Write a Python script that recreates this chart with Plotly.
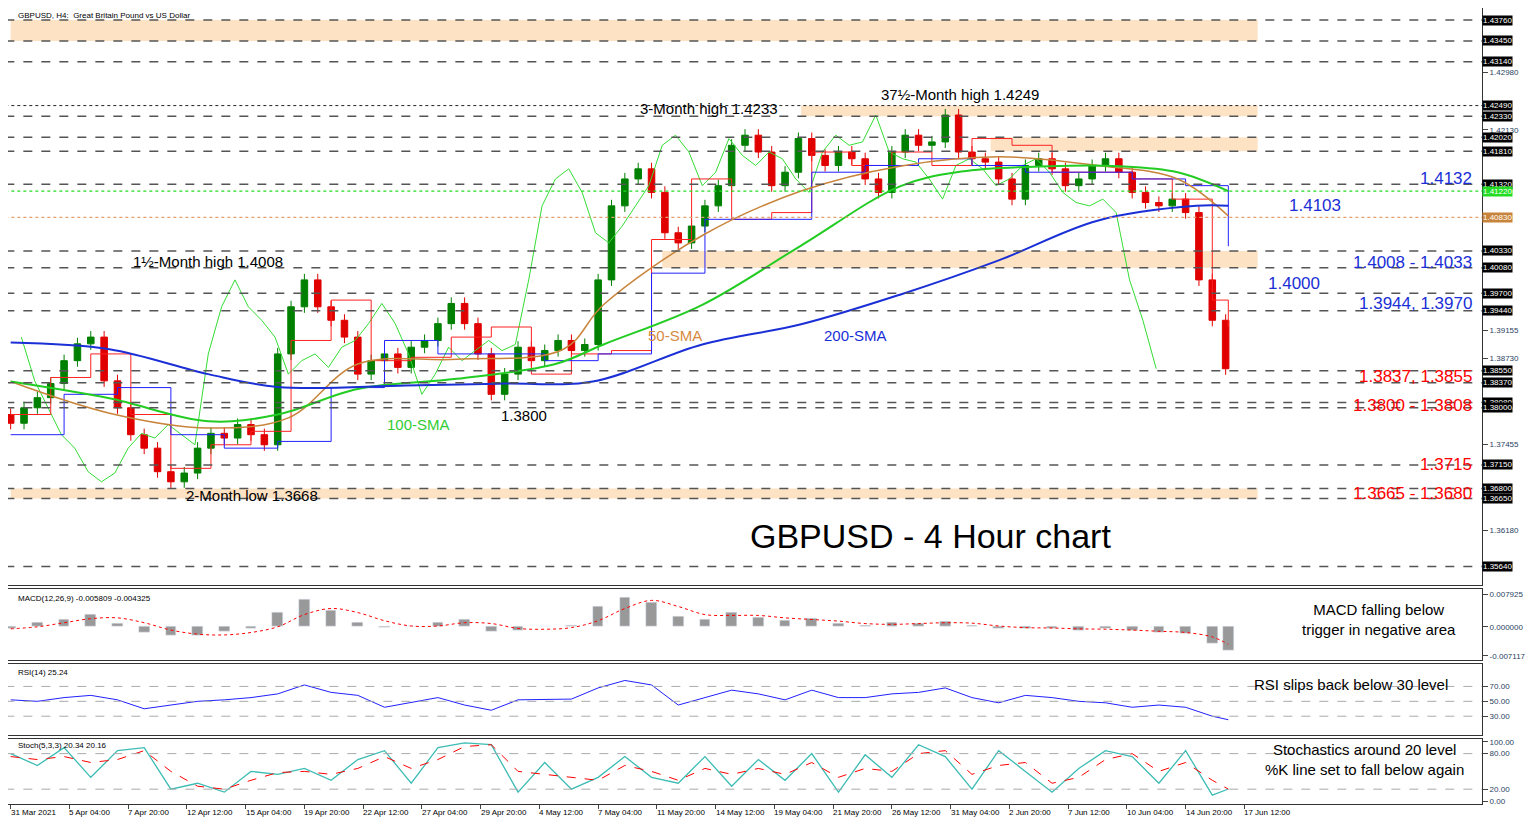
import plotly.graph_objects as go
from plotly.subplots import make_subplots

# candles, one every 5 H4 bars
closes = [1.3777, 1.3800, 1.3815, 1.3836, 1.3870, 1.3895, 1.3905, 1.3840, 1.3800, 1.3760,
          1.3740, 1.3705, 1.3690, 1.3703, 1.3740, 1.3762, 1.3755, 1.3775, 1.3760, 1.3745,
          1.3880, 1.3950, 1.3990, 1.3950, 1.3930, 1.3905, 1.3850, 1.3870, 1.3880, 1.3860,
          1.3890, 1.3900, 1.3925, 1.3955, 1.3925, 1.3880, 1.3820, 1.3850, 1.3890, 1.3870,
          1.3885, 1.3900, 1.3885, 1.3894, 1.3990, 1.4100, 1.4140, 1.4155, 1.4120, 1.4060,
          1.4045, 1.4070, 1.4100, 1.4130, 1.4190, 1.4205, 1.4180, 1.4130, 1.4150, 1.4200,
          1.4175, 1.4160, 1.4180, 1.4170, 1.4140, 1.4120, 1.4180, 1.4205, 1.4190, 1.4195,
          1.4235, 1.4180, 1.4170, 1.4165, 1.4140, 1.4110, 1.4160, 1.4170, 1.4155, 1.4130,
          1.4140, 1.4160, 1.4170, 1.4150, 1.4120, 1.4105, 1.4100, 1.4110, 1.4090, 1.3990,
          1.3930, 1.3858]
first_open = 1.3790

sma200_bars = [0, 37, 74, 100, 148, 185, 218, 259, 296, 333, 370, 407, 444, 456]
sma200 = [1.3897, 1.3887, 1.3850, 1.3831, 1.3833, 1.3836, 1.3839, 1.3894, 1.3924, 1.3968, 1.4019, 1.4078, 1.4100, 1.4100]
sma100_bars = [0, 37, 74, 100, 130, 167, 204, 222, 259, 296, 333, 356, 389, 415, 437, 456]
sma100 = [1.3839, 1.3814, 1.3780, 1.3790, 1.3828, 1.3843, 1.3865, 1.3894, 1.3953, 1.4041, 1.4129, 1.4151, 1.4159, 1.4159, 1.4150, 1.4122]
sma50_bars = [0, 37, 74, 104, 130, 167, 207, 222, 259, 296, 333, 370, 407, 437, 456]
sma50 = [1.3839, 1.3792, 1.3770, 1.3785, 1.3865, 1.3872, 1.3887, 1.3953, 1.4056, 1.4122, 1.4159, 1.4173, 1.4160, 1.4140, 1.4085]

tenkan = [1.3790, 1.3845, 1.3880, 1.3790, 1.3710, 1.3745, 1.3765, 1.3900, 1.3960, 1.3870,
          1.3875, 1.3905, 1.3920, 1.3850, 1.3880, 1.3885, 1.4050, 1.4140, 1.4080, 1.4090,
          1.4180, 1.4160, 1.4180, 1.4160, 1.4200, 1.4190, 1.4150, 1.4150, 1.4140, 1.4110,
          1.3960, 1.3920]
kijun = [1.3760, 1.3820, 1.3830, 1.3760, 1.3740, 1.3750, 1.3830, 1.3900, 1.3880, 1.3880,
         1.3870, 1.3880, 1.4000, 1.4080, 1.4080, 1.4150, 1.4160, 1.4170, 1.4160, 1.4150,
         1.4150, 1.4140, 1.4130, 1.4040]

macd = [-0.0003, 0.0010, 0.0018, 0.0030, 0.0008, -0.0015, -0.0022, -0.0020, -0.0012, -0.0005,
        0.0035, 0.0068, 0.0040, 0.0010, -0.0002, 0.0002, 0.0010, 0.0018, -0.0012, -0.0008,
        0.0000, 0.0004, 0.0050, 0.0072, 0.0060, 0.0025, 0.0018, 0.0035, 0.0022, 0.0015,
        0.0020, 0.0008, 0.0003, 0.0010, 0.0008, 0.0014, 0.0003, -0.0005, -0.0003, -0.0003,
        -0.0008, -0.0005, -0.0010, -0.0015, -0.0016, -0.0040, -0.0058]
signal = [-0.0005, 0.0000, 0.0010, 0.0020, 0.0022, 0.0010, -0.0008, -0.0018, -0.0020, -0.0014,
          0.0000, 0.0030, 0.0045, 0.0035, 0.0015, 0.0002, 0.0002, 0.0010, 0.0008, -0.0004,
          -0.0006, -0.0002, 0.0015, 0.0045, 0.0065, 0.0050, 0.0030, 0.0028, 0.0028, 0.0022,
          0.0018, 0.0014, 0.0008, 0.0006, 0.0008, 0.0010, 0.0009, 0.0002, -0.0002, -0.0003,
          -0.0005, -0.0006, -0.0008, -0.0011, -0.0014, -0.0025, -0.0043]
rsi = [52, 50, 55, 58, 52, 40, 45, 50, 52, 55, 60, 72, 62, 58, 42, 48, 55, 45, 38, 52,
       52, 53, 68, 78, 72, 45, 55, 65, 60, 52, 65, 55, 55, 60, 62, 68, 55, 48, 58, 55,
       50, 48, 42, 45, 42, 30, 25.24]
stoch_k = [80, 60, 90, 40, 85, 90, 20, 30, 15, 50, 45, 55, 35, 70, 85, 30, 90, 98, 95, 15,
           65, 20, 40, 75, 40, 30, 75, 25, 70, 35, 80, 15, 78, 40, 95, 75, 20, 85, 50, 15,
           55, 85, 75, 30, 85, 10, 20.34]
stoch_d = [75, 70, 75, 65, 70, 85, 50, 25, 20, 35, 48, 50, 45, 55, 75, 55, 70, 92, 95, 50,
           45, 40, 35, 60, 50, 35, 55, 45, 55, 45, 65, 40, 55, 50, 80, 85, 45, 60, 65, 30,
           40, 70, 80, 50, 65, 35, 20.16]

tick_labels = ["31 Mar 2021", "5 Apr 04:00", "7 Apr 20:00", "12 Apr 12:00", "15 Apr 04:00",
               "19 Apr 20:00", "22 Apr 12:00", "27 Apr 04:00", "29 Apr 20:00", "4 May 12:00",
               "7 May 04:00", "11 May 20:00", "14 May 12:00", "19 May 04:00", "21 May 20:00",
               "26 May 12:00", "31 May 04:00", "2 Jun 20:00", "7 Jun 12:00", "10 Jun 04:00",
               "14 Jun 20:00", "17 Jun 12:00"]
dashed_levels = [1.4376, 1.4345, 1.4314, 1.4233, 1.4202, 1.4181, 1.4132, 1.4033, 1.4008,
                 1.3970, 1.3944, 1.3855, 1.3837, 1.3808, 1.3800, 1.3715, 1.3680, 1.3665, 1.3564]
boxed_levels = dashed_levels + [1.4249]
small_ticks = [1.42980, 1.42130, 1.39155, 1.38730, 1.37455, 1.36180]
zones = [(0, 1.4345, 1.4376), (296, 1.4233, 1.4249), (367, 1.4181, 1.4202),
         (244, 1.4008, 1.4033), (0, 1.3665, 1.3680)]

bars = [5 * i for i in range(len(closes))]
opens = [first_open] + closes[:-1]
highs = [max(o, c) + 0.0009 for o, c in zip(opens, closes)]
lows = [min(o, c) - 0.0009 for o, c in zip(opens, closes)]
sub_bars = [10 * i for i in range(len(macd) - 1)] + [456]
tick_bars = [22 * i for i in range(len(tick_labels))]
XMAX = 551

fig = make_subplots(rows=4, cols=1, shared_xaxes=True, vertical_spacing=0.005,
                    row_heights=[0.735, 0.09, 0.09, 0.083])

for b0, lo, hi in zones:
    fig.add_shape(type="rect", x0=b0, x1=467, y0=lo, y1=hi, fillcolor="#fde3c4",
                  line_width=0, layer="below", row=1, col=1)
for lv in dashed_levels:
    fig.add_shape(type="line", x0=-2, x1=XMAX, y0=lv, y1=lv,
                  line=dict(color="#555", width=1.5, dash="dash"), row=1, col=1)
fig.add_shape(type="line", x0=-2, x1=XMAX, y0=1.4249, y1=1.4249,
              line=dict(color="#222", width=1, dash="dot"), row=1, col=1)
fig.add_shape(type="line", x0=-2, x1=XMAX, y0=1.4122, y1=1.4122,
              line=dict(color="#22dd22", width=1.2, dash="dot"), row=1, col=1)
fig.add_shape(type="line", x0=-2, x1=XMAX, y0=1.4083, y1=1.4083,
              line=dict(color="#e0a070", width=1.2, dash="dot"), row=1, col=1)

# chikou span: close shifted 26 bars back
fig.add_trace(go.Scatter(x=[b - 26 for b in bars[6:]], y=closes[6:], mode="lines",
                         line=dict(color="#33dd33", width=1)), row=1, col=1)
fig.add_trace(go.Scatter(x=[15 * i for i in range(len(tenkan) - 1)] + [456], y=tenkan,
                         mode="lines", line=dict(color="#ff2020", width=1, shape="hv")), row=1, col=1)
fig.add_trace(go.Scatter(x=[20 * i for i in range(len(kijun) - 1)] + [456], y=kijun,
                         mode="lines", line=dict(color="#2020ff", width=1, shape="hv")), row=1, col=1)
fig.add_trace(go.Scatter(x=sma50_bars, y=sma50, mode="lines", line=dict(color="#c8843a", width=1.5, shape="spline")), row=1, col=1)
fig.add_trace(go.Scatter(x=sma100_bars, y=sma100, mode="lines", line=dict(color="#22cc22", width=2, shape="spline")), row=1, col=1)
fig.add_trace(go.Scatter(x=sma200_bars, y=sma200, mode="lines", line=dict(color="#1a2fd6", width=2, shape="spline")), row=1, col=1)
fig.add_trace(go.Candlestick(x=bars, open=opens, high=highs, low=lows, close=closes,
                             increasing=dict(line=dict(color="#008000", width=1), fillcolor="#008000"),
                             decreasing=dict(line=dict(color="#e00000", width=1), fillcolor="#e00000"),
                             whiskerwidth=0), row=1, col=1)

fig.add_trace(go.Bar(x=sub_bars, y=macd, marker_color="#999", width=4), row=2, col=1)
fig.add_trace(go.Scatter(x=sub_bars, y=signal, mode="lines", line=dict(color="red", width=1, dash="dot", shape="spline")), row=2, col=1)
fig.add_trace(go.Scatter(x=sub_bars, y=rsi, mode="lines", line=dict(color="#2020ff", width=1)), row=3, col=1)
fig.add_trace(go.Scatter(x=sub_bars, y=stoch_k, mode="lines", line=dict(color="#3cbcb4", width=1.3)), row=4, col=1)
fig.add_trace(go.Scatter(x=sub_bars, y=stoch_d, mode="lines", line=dict(color="red", width=1, dash="dash")), row=4, col=1)
for r, lvls in ((3, [30, 50, 70]), (4, [20, 80])):
    for lv in lvls:
        fig.add_shape(type="line", x0=-2, x1=XMAX, y0=lv, y1=lv,
                      line=dict(color="#aaa", width=1, dash="dash"), row=r, col=1)

fig.update_xaxes(range=[-1, XMAX], showgrid=False, zeroline=False, showline=True, mirror=True,
                 linecolor="#333", rangeslider_visible=False)
fig.update_xaxes(tickvals=tick_bars, ticktext=[""] * len(tick_bars), ticks="outside", ticklen=4, row=4, col=1)
fig.update_yaxes(side="right", showgrid=False, zeroline=False, showline=True, mirror=True,
                 linecolor="#333", tickfont=dict(size=8, family="Liberation Sans"), ticks="outside")
fig.update_yaxes(range=[1.3536, 1.4394], tickvals=small_ticks,
                 ticktext=[f"{v:.5f}" for v in small_ticks], row=1, col=1)
fig.update_yaxes(range=[-0.0082, 0.0092], tickvals=[0.007925, 0, -0.007117],
                 ticktext=["0.007925", "0.000000", "-0.007117"], row=2, col=1)
fig.update_yaxes(range=[5, 100], tickvals=[70, 50, 30], ticktext=["70.00", "50.00", "30.00"], row=3, col=1)
fig.update_yaxes(range=[-5, 105], tickvals=[100, 80, 20, 0], ticktext=["100.00", "80.00", "20.00", "0.00"], row=4, col=1)

F = "Liberation Sans"
for b, t in zip(tick_bars, tick_labels):
    fig.add_annotation(x=b, xref="x4", y=0, yref="paper", text=t, showarrow=False,
                       xanchor="left", yanchor="top", xshift=-2, yshift=-2,
                       font=dict(size=8, family=F, color="black"))

anns = [
    (1, 2, 1.4392, "GBPUSD, H4:  Great Britain Pound vs US Dollar", 8, "black", "left"),
    (1, 235, 1.4244, "3-Month high 1.4233", 15, "black", "left"),
    (1, 325, 1.4265, "37½-Month high 1.4249", 15, "black", "left"),
    (1, 45, 1.4018, "1½-Month high 1.4008", 15, "black", "left"),
    (1, 65, 1.3670, "2-Month low 1.3668", 15, "black", "left"),
    (1, 183, 1.3789, "1.3800", 15, "black", "left"),
    (1, 140, 1.3775, "100-SMA", 15, "#33cc33", "left"),
    (1, 238, 1.3907, "50-SMA", 15, "#d58a3e", "left"),
    (1, 304, 1.3907, "200-SMA", 15, "#1a2fd6", "left"),
    (1, 276, 1.3610, "GBPUSD - 4 Hour chart", 34, "black", "left"),
    (1, 548, 1.4140, "1.4132", 17, "#1a2fd6", "right"),
    (1, 478, 1.4100, "1.4103", 17, "#1a2fd6", "left"),
    (1, 548, 1.4016, "1.4008 - 1.4033", 17, "#1a2fd6", "right"),
    (1, 470, 1.3985, "1.4000", 17, "#1a2fd6", "left"),
    (1, 548, 1.3955, "1.3944, 1.3970", 17, "#1a2fd6", "right"),
    (1, 548, 1.3846, "1.3837, 1.3855", 17, "red", "right"),
    (1, 548, 1.3803, "1.3800 - 1.3808", 17, "red", "right"),
    (1, 548, 1.3715, "1.3715", 17, "red", "right"),
    (1, 548, 1.3672, "1.3665 - 1.3680", 17, "red", "right"),
    (2, 2, 0.0085, "MACD(12,26,9) -0.005809 -0.004325", 8, "black", "left"),
    (2, 542, 0.0018, "MACD falling below<br>trigger in negative area", 15, "black", "right"),
    (3, 2, 98, "RSI(14) 25.24", 8, "black", "left"),
    (3, 539, 73, "RSI slips back below 30 level", 15, "black", "right"),
    (4, 2, 104, "Stoch(5,3,3) 20.34 20.16", 8, "black", "left"),
    (4, 545, 70, "Stochastics around 20 level<br>%K line set to fall below again", 15, "black", "right"),
]
for r, x, y, t, s, c, xa in anns:
    yv = "top" if s == 8 else "middle"
    fig.add_annotation(x=x, y=y, text=t, showarrow=False, xanchor=xa, yanchor=yv,
                       font=dict(size=s, color=c, family=F), row=r, col=1)
for lv in boxed_levels:
    fig.add_annotation(x=1.0, xref="paper", y=lv, yref="y", text=f"{lv:.5f}", showarrow=False,
                       xanchor="left", bgcolor="black", font=dict(size=8, color="white", family=F),
                       borderpad=0)
fig.add_annotation(x=1.0, xref="paper", y=1.4122, yref="y", text="1.41220", showarrow=False,
                   xanchor="left", bgcolor="#22dd22", font=dict(size=8, color="white", family=F), borderpad=0)
fig.add_annotation(x=1.0, xref="paper", y=1.4083, yref="y", text="1.40830", showarrow=False,
                   xanchor="left", bgcolor="#c8843a", font=dict(size=8, color="white", family=F), borderpad=0)

fig.update_layout(width=1520, height=812, margin=dict(l=0, r=46, t=0, b=16),
                  plot_bgcolor="white", paper_bgcolor="white", showlegend=False,
                  bargap=0)
fig.write_html("out.html")
